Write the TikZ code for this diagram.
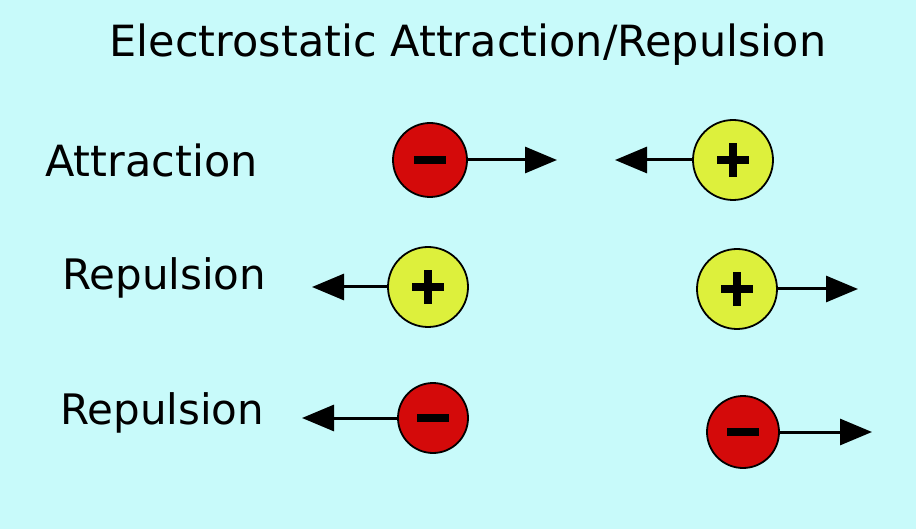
\documentclass[tikz,border=0pt]{standalone}
\usepackage{fontspec}
\setmainfont{DejaVu Sans}
\usetikzlibrary{arrows.meta}
\definecolor{bg}{HTML}{C8FAFA}
\definecolor{neg}{HTML}{D40A0A}
\definecolor{pos}{HTML}{DDF03C}
\tikzset{
 x=1pt,y=-1pt,
 lbl/.style={font=\fontsize{42}{48}\selectfont,anchor=west,inner sep=0},
 charge/.style={circle,draw=black,line width=1.8pt,minimum size=#1,inner sep=0},
 neg/.style={charge=#1,fill=neg},
 pos/.style={charge=#1,fill=pos},
 force/.style={line width=3pt,-{Triangle[length=32pt,width=26pt]}},
 sign/.style={line width=8pt}
}
\newcommand{\minussign}[1]{\draw[sign] ([xshift=-16pt]#1.center) -- ([xshift=16pt]#1.center);}
\newcommand{\plussign}[1]{\minussign{#1}\draw[sign] ([yshift=-17pt]#1.center) -- ([yshift=17pt]#1.center);}
\begin{document}
\begin{tikzpicture}
\fill[bg] (0,0) rectangle (916,529);
\useasboundingbox (0,0) rectangle (916,529);
\node[font=\fontsize{43}{48}\selectfont] (title) at (468,45) {Electrostatic Attraction/Repulsion};
\node[lbl,font=\fontsize{43}{48}\selectfont] (l1) at (45,160) {Attraction};
\node[lbl] (l2) at (62,278) {Repulsion};
\node[lbl] (l3) at (60,413) {Repulsion};
% row 1
\node[neg=74pt] (a1) at (430,160) {}; \minussign{a1}
\coordinate (a1e) at (557,160);
\draw[force] (a1) -- (a1e);
\node[pos=80pt] (a2) at (733,160) {}; \plussign{a2}
\coordinate (a2e) at (615,160);
\draw[force] (a2) -- (a2e);
% row 2
\node[pos=80pt] (b1) at (428,287) {}; \plussign{b1}
\coordinate (b1e) at (312,287);
\draw[force] (b1) -- (b1e);
\node[pos=80pt] (b2) at (737,289) {}; \plussign{b2}
\coordinate (b2e) at (858,289);
\draw[force] (b2) -- (b2e);
% row 3
\node[neg=70pt] (c1) at (433,418) {}; \minussign{c1}
\coordinate (c1e) at (302,418);
\draw[force] (c1) -- (c1e);
\node[neg=72pt] (c2) at (743,432) {}; \minussign{c2}
\coordinate (c2e) at (872,432);
\draw[force] (c2) -- (c2e);
\end{tikzpicture}
\end{document}
